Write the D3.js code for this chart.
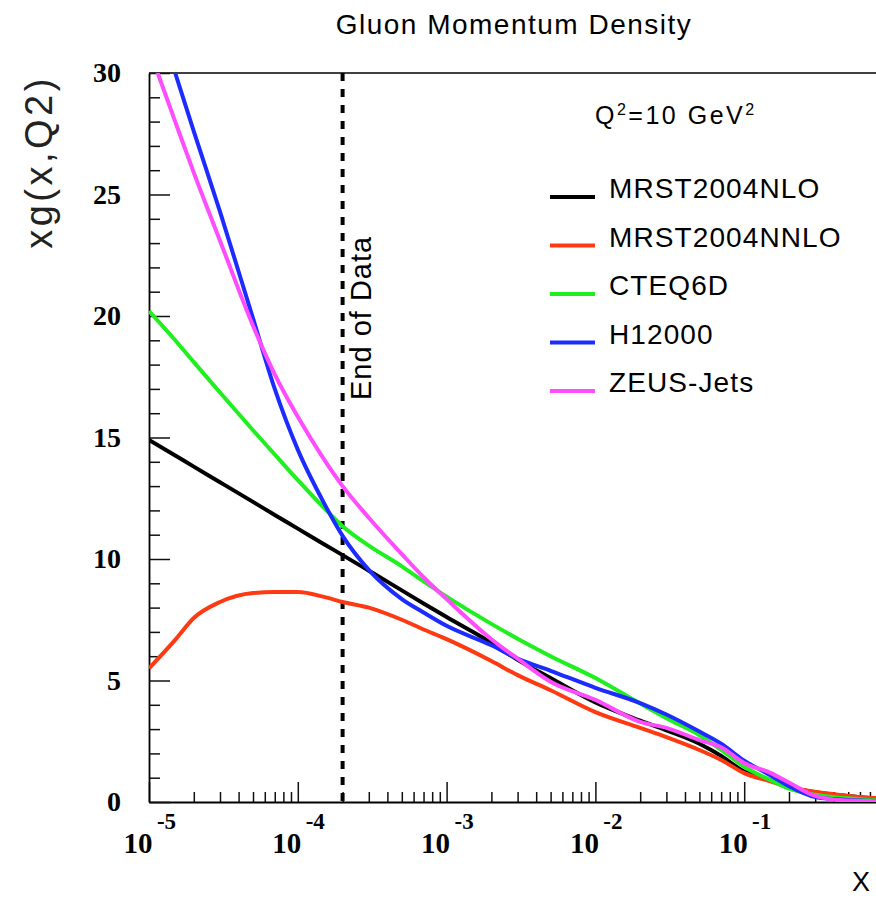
<!DOCTYPE html>
<html>
<head>
<meta charset="utf-8">
<script src="https://cdn.jsdelivr.net/npm/d3@7"></script>
<style>
  body { margin: 0; background: #fff; }
  svg { display: block; }
</style>
</head>
<body>
<svg id="chart" width="876" height="899"></svg>
<script>
// momentum fraction grid shared by every curve
const xs = [1e-5, 1.5e-5, 2e-5, 3e-5, 5e-5, 7e-5, 1e-4, 1.5e-4, 2e-4, 3e-4, 5e-4, 7e-4,
  1e-3, 2e-3, 3e-3, 5e-3, 1e-2, 2e-2, 3e-2, 5e-2, 7e-2, 0.1, 0.15, 0.2, 0.3, 0.4, 0.5, 0.7, 1.0]

// xg(x, Q2), Q2 = 10 GeV2
const mrstNLO = [14.9, 14.26, 13.8, 13.16, 12.35, 11.81, 11.25, 10.61, 10.16, 9.52, 8.71, 8.17,
  7.61, 6.55, 5.85, 5.1, 4.1, 3.35, 2.95, 2.4, 1.9, 1.25, 0.9, 0.62, 0.4, 0.3, 0.25, 0.15, 0.08]
const mrstNNLO = [5.5, 6.67, 7.57, 8.23, 8.6, 8.64, 8.64, 8.44, 8.23, 8.0, 7.5, 7.1,
  6.7, 5.8, 5.22, 4.6, 3.7, 3.05, 2.67, 2.14, 1.73, 1.19, 0.85, 0.62, 0.42, 0.32, 0.25, 0.18, 0.12]
const cteq6d = [20.2, 19.0, 18.1, 16.85, 15.3, 14.3, 13.25, 12.1, 11.35, 10.55, 9.7, 9.08,
  8.45, 7.33, 6.72, 6.0, 5.1, 4.05, 3.45, 2.75, 2.15, 1.45, 0.9, 0.55, 0.3, 0.2, 0.15, 0.08, 0.05]
const h12000 = [33.3, 30.0, 27.6, 24.3, 19.9, 17.0, 14.5, 12.3, 10.95, 9.55, 8.35, 7.8,
  7.25, 6.45, 5.9, 5.4, 4.7, 4.07, 3.6, 2.9, 2.4, 1.7, 1.1, 0.65, 0.2, 0.12, 0.08, 0.05, 0.03]
const zeusJets = [31.0, 28.0, 25.9, 23.1, 19.6, 17.6, 15.85, 14.1, 13.0, 11.7, 10.2, 9.25,
  8.35, 6.7, 5.9, 4.95, 4.2, 3.3, 3.05, 2.55, 2.25, 1.6, 1.2, 0.8, 0.25, 0.1, 0.06, 0.04, 0.02]

const seriesNames = ['MRST2004NLO', 'MRST2004NNLO', 'CTEQ6D', 'H12000', 'ZEUS-Jets']
const seriesValues = [mrstNLO, mrstNNLO, cteq6d, h12000, zeusJets]
const seriesColors = ['#000000', '#ff3a12', '#1fef1f', '#1c2cff', '#ff4cff']

const xMajorTicks = [1e-5, 1e-4, 1e-3, 1e-2, 1e-1]
const yMajorTicks = [0, 5, 10, 15, 20, 25, 30]
const endOfData = 2e-4

let svg = d3.select('#chart')
let x = d3.scaleLog().domain([1e-5, 1]).range([149, 893])
let y = d3.scaleLinear().domain([0, 30]).range([802, 73])

svg.append('defs').append('clipPath').attr('id', 'plot')
  .append('rect')
  .attr('x', x.range()[0]).attr('y', y.range()[1])
  .attr('width', x.range()[1] - x.range()[0])
  .attr('height', y.range()[0] - y.range()[1])

// title
svg.append('text')
  .attr('x', 514).attr('y', 34)
  .attr('text-anchor', 'middle')
  .attr('font-family', 'Liberation Sans, Arial, sans-serif')
  .attr('font-size', 28)
  .attr('letter-spacing', 1.5)
  .text('Gluon Momentum Density')

// frame top
svg.append('line')
  .attr('x1', x.range()[0]).attr('x2', x.range()[1])
  .attr('y1', y(30)).attr('y2', y(30))
  .attr('stroke', '#000').attr('stroke-width', 1.5)

// x axis, major and minor ticks drawn inward
let isDecade = (d) => Math.abs(Math.log10(d) - Math.round(Math.log10(d))) < 1e-6
let xMinor = x.ticks().filter(d => !isDecade(d))

let gxMinor = svg.append('g')
  .attr('transform', `translate(0,${y(0)})`)
  .call(d3.axisBottom(x).tickValues(xMinor).tickSize(-10).tickSizeOuter(0).tickFormat(''))
gxMinor.select('.domain').remove()

let gx = svg.append('g')
  .attr('transform', `translate(0,${y(0)})`)
  .call(d3.axisBottom(x).tickValues(xMajorTicks).tickSize(-20).tickSizeOuter(0).tickFormat(''))
gx.select('.domain').attr('stroke-width', 1.8)
gx.selectAll('.tick').each(function (d) {
  let t = d3.select(this)
  t.select('text').remove()
  t.append('text')
    .attr('x', 3).attr('y', 51)
    .attr('text-anchor', 'end')
    .attr('fill', '#000')
    .attr('font-family', 'Liberation Serif, Times New Roman, serif')
    .attr('font-weight', 'bold')
    .attr('font-size', 29)
    .text('10')
  t.append('text')
    .attr('x', 17).attr('y', 27)
    .attr('fill', '#000')
    .attr('font-family', 'Liberation Serif, Times New Roman, serif')
    .attr('font-weight', 'bold')
    .attr('font-size', 23)
    .text(String(Math.round(Math.log10(d))))
})
svg.selectAll('.tick line').attr('stroke', '#111').attr('stroke-width', 1.5)

// y axis
let yMinor = y.ticks(30).filter(d => d % 5 !== 0)
let gyMinor = svg.append('g')
  .attr('transform', `translate(${x.range()[0]},0)`)
  .call(d3.axisLeft(y).tickValues(yMinor).tickSize(-11).tickSizeOuter(0).tickFormat(''))
gyMinor.select('.domain').remove()

let gy = svg.append('g')
  .attr('transform', `translate(${x.range()[0]},0)`)
  .call(d3.axisLeft(y).tickValues(yMajorTicks).tickSize(-21).tickSizeOuter(0).tickPadding(28))
gy.select('.domain').attr('stroke-width', 1.8)
gy.selectAll('.tick text')
  .attr('fill', '#000')
  .attr('font-family', 'Liberation Serif, Times New Roman, serif')
  .attr('font-weight', 'bold')
  .attr('font-size', 28)
svg.selectAll('.tick line').attr('stroke', '#111').attr('stroke-width', 1.5)

// axis titles
svg.append('text')
  .attr('transform', 'translate(52,162) rotate(-90)')
  .attr('text-anchor', 'middle')
  .attr('font-family', 'Liberation Sans, Arial, sans-serif')
  .attr('font-size', 38)
  .attr('letter-spacing', 3.5)
  .attr('fill', '#222')
  .text('xg(x,Q2)')

svg.append('text')
  .attr('x', 852).attr('y', 891)
  .attr('font-family', 'Liberation Sans, Arial, sans-serif')
  .attr('font-size', 27)
  .text('X')

// end of data marker
svg.append('line')
  .attr('x1', x(endOfData)).attr('x2', x(endOfData))
  .attr('y1', y(30)).attr('y2', y(0))
  .attr('stroke', '#000').attr('stroke-width', 4)
  .attr('stroke-dasharray', '8,8')

svg.append('text')
  .attr('transform', `translate(${x(endOfData) + 28},400) rotate(-90)`)
  .attr('font-family', 'Liberation Sans, Arial, sans-serif')
  .attr('font-size', 29)
  .attr('letter-spacing', 1)
  .text('End of Data')

// curves
let line = d3.line()
  .x((d, i) => x(xs[i]))
  .y(d => y(d))
  .curve(d3.curveMonotoneX)

svg.append('g').attr('clip-path', 'url(#plot)')
  .selectAll('path')
  .data(seriesValues)
  .join('path')
  .attr('d', line)
  .attr('fill', 'none')
  .attr('stroke', (d, i) => seriesColors[i])
  .attr('stroke-width', 4)

// legend
let q2 = svg.append('text')
  .attr('x', 595).attr('y', 124)
  .attr('font-family', 'Liberation Sans, Arial, sans-serif')
  .attr('font-size', 25)
  .attr('letter-spacing', 2.5)
q2.append('tspan').text('Q')
q2.append('tspan').attr('font-size', 16).attr('dy', -9).text('2')
q2.append('tspan').attr('dy', 9).text('=10 GeV')
q2.append('tspan').attr('font-size', 16).attr('dy', -9).text('2')

let legend = svg.append('g')
  .selectAll('g')
  .data(seriesNames)
  .join('g')
  .attr('transform', (d, i) => `translate(0,${197 + i * 48.5})`)
legend.append('line')
  .attr('x1', 550).attr('x2', 595)
  .attr('stroke', (d, i) => seriesColors[i])
  .attr('stroke-width', 4)
legend.append('text')
  .attr('x', 609).attr('y', 1)
  .attr('font-family', 'Liberation Sans, Arial, sans-serif')
  .attr('font-size', 28)
  .attr('letter-spacing', 1.1)
  .text(d => d)
</script>
</body>
</html>
